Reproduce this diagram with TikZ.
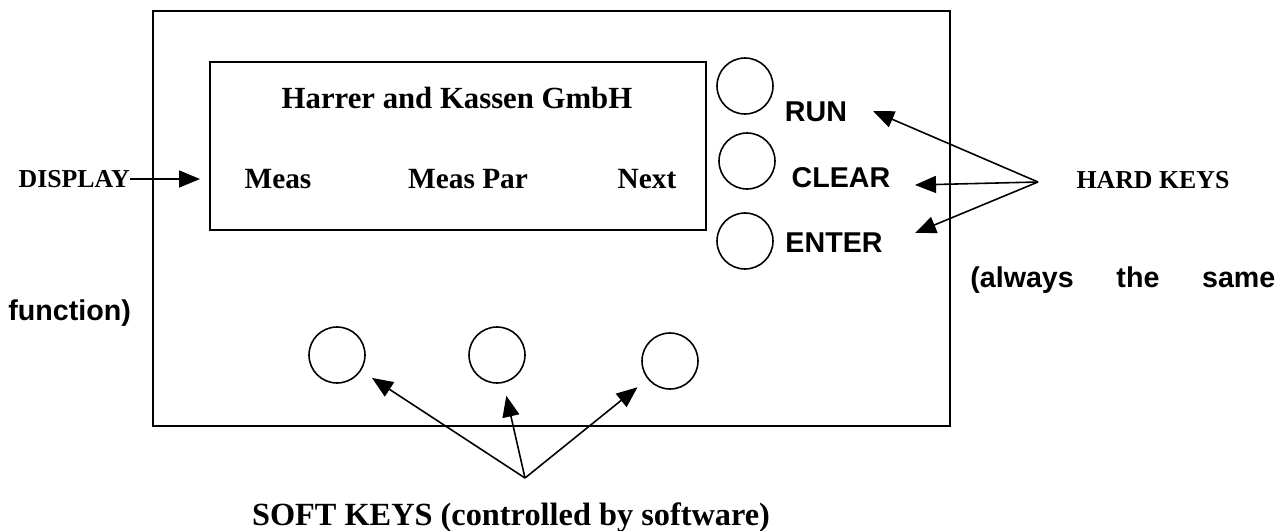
\documentclass[tikz,border=0pt]{standalone}
\usepackage{fontspec}
\setmainfont{Liberation Serif}
\setsansfont{Liberation Sans}
\usetikzlibrary{arrows.meta}

\begin{document}
\begin{tikzpicture}[>={Triangle[length=0.42cm,width=0.34cm]},
  panel/.style={draw,line width=1.1pt,inner sep=0pt},
  key node/.style={circle,draw,line width=0.9pt,minimum size=1.12cm,inner sep=0pt},
  serif label/.style={font=\fontsize{16.7}{20}\selectfont\bfseries,inner sep=0pt},
  title label/.style={font=\fontsize{17.5}{21}\selectfont\bfseries,inner sep=0pt},
  small label/.style={font=\fontsize{14.7}{18}\selectfont\bfseries,inner sep=0pt},
  big label/.style={font=\fontsize{18.4}{22}\selectfont\bfseries,inner sep=0pt},
  sans label/.style={font=\fontsize{16.3}{20}\selectfont\sffamily\bfseries,inner sep=0pt},
  pointer/.style={->,line width=0.9pt}]
\useasboundingbox (0,0) rectangle (25.74,-10.62);
% front panel and display
\node [panel,minimum width=15.94cm,minimum height=8.30cm,anchor=north west](front) at (3.04,-0.20) {};
\node [panel,minimum width=9.92cm,minimum height=3.36cm,anchor=north west](disp) at (4.18,-1.22) {};
\node [title label](title) at (9.14,-1.96) {Harrer and Kassen GmbH};
\node [serif label,anchor=base](meas) at (5.56,-3.76) {Meas};
\node [serif label,anchor=base](measpar) at (9.36,-3.76) {Meas Par};
\node [serif label,anchor=base](next) at (12.94,-3.76) {Next};
\node [small label,anchor=east](dlbl) at (2.60,-3.58) {DISPLAY};
\draw [pointer,shorten >=0.18cm] (dlbl.east) -- (dlbl.east -| disp.west);
% hard keys
\node [key node](krun) at (14.90,-1.72) {};
\node [key node](kclear) at (14.94,-3.22) {};
\node [key node](kenter) at (14.90,-4.82) {};
\node [sans label](run) at (16.32,-2.24) {RUN};
\node [sans label](clear) at (16.82,-3.56) {CLEAR};
\node [sans label](enter) at (16.68,-4.86) {ENTER};
\node [small label](hard) at (23.06,-3.60) {HARD KEYS};
\coordinate (hksrc) at (20.76,-3.64);
\coordinate (runtip) at (17.46,-2.22);
\coordinate (cleartip) at (18.30,-3.70);
\coordinate (entertip) at (18.30,-4.66);
\draw [pointer] (hksrc) -- (runtip);
\draw [pointer] (hksrc) -- (cleartip);
\draw [pointer] (hksrc) -- (entertip);
\node [sans label,anchor=base west,text width=6.10cm](always) at (19.40,-5.74) {(always\hfill the\hfill same};
\node [sans label,anchor=base west](func) at (0.16,-6.40) {function)};
% soft keys
\node [key node](k1) at (6.74,-7.10) {};
\node [key node](k2) at (9.94,-7.10) {};
\node [key node](k3) at (13.40,-7.22) {};
\node [big label,anchor=base](soft) at (10.22,-10.50) {SOFT KEYS (controlled by software)};
\coordinate (sksrc) at (10.50,-9.56);
\foreach \k in {k1,k2,k3}
  \draw [pointer,shorten >=0.26cm] (sksrc) -- (\k);
\end{tikzpicture}
\end{document}
